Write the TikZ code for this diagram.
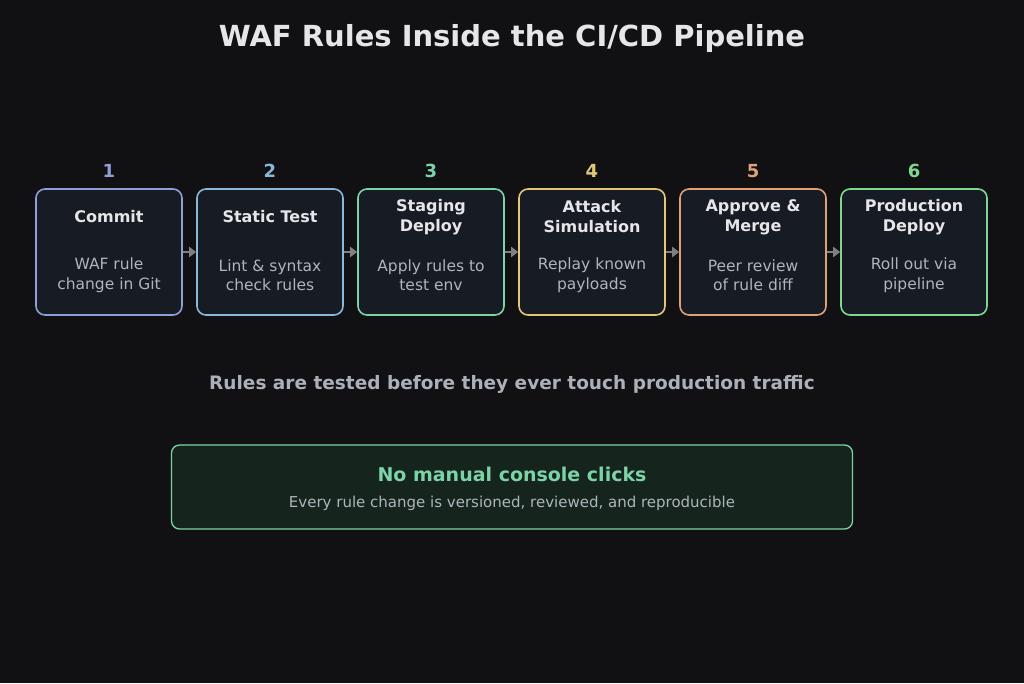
\documentclass[tikz,border=0pt]{standalone}
\usepackage{fontspec}
\setmainfont{DejaVu Sans}
\usetikzlibrary{positioning,arrows.meta}
\definecolor{bgdark}{HTML}{111113}
\definecolor{boxfill}{HTML}{161B24}
\definecolor{txtmain}{HTML}{E6E6E8}
\definecolor{txtdim}{HTML}{B0B4BC}
\definecolor{cOne}{HTML}{8FA0D8}
\definecolor{cTwo}{HTML}{8AB8D8}
\definecolor{cThree}{HTML}{7DD3A8}
\definecolor{cFour}{HTML}{E0C878}
\definecolor{cFive}{HTML}{E0A078}
\definecolor{cSix}{HTML}{80D890}
\definecolor{notefill}{HTML}{15241C}
\tikzset{
	x=1pt, y=-1pt,
	stage/.style = {
			draw, line width=1.6pt, rounded corners=9pt,
			fill=boxfill, minimum width=146pt, minimum height=126pt,
		},
	stepnum/.style = {font=\bfseries\fontsize{18}{20}\selectfont},
	head/.style = {text=txtmain, font=\bfseries\fontsize{16}{20}\selectfont, align=center},
	desc/.style = {text=txtdim, font=\fontsize{15.5}{19.5}\selectfont, align=center},
	flow/.style = {draw=gray, line width=2.5pt, -{Triangle[length=7pt,width=10pt]}},
}
\begin{document}
\begin{tikzpicture}
	\fill[bgdark] (0,0) rectangle (1024,683);
	\useasboundingbox (0,0) rectangle (1024,683);
	\node[text=txtmain, font=\bfseries\fontsize{29}{32}\selectfont] (title) at (512,38) {WAF Rules Inside the CI/CD Pipeline};
	% stages
	\node[stage, draw=cOne] (s1) at (109,252) {};
	\node[stage, draw=cTwo, right=13.4pt of s1] (s2) {};
	\node[stage, draw=cThree, right=13.4pt of s2] (s3) {};
	\node[stage, draw=cFour, right=13.4pt of s3] (s4) {};
	\node[stage, draw=cFive, right=13.4pt of s4] (s5) {};
	\node[stage, draw=cSix, right=13.4pt of s5] (s6) {};
	\foreach \i/\c in {1/cOne,2/cTwo,3/cThree,4/cFour,5/cFive,6/cSix}
		\node[stepnum, text=\c] (n\i) at ([yshift=81pt]s\i.center) {\i};
	\node[head] (h1) at ([yshift=35pt]s1.center) {Commit};
	\node[head] (h2) at ([yshift=35pt]s2.center) {Static Test};
	\node[head] (h3) at ([yshift=35pt]s3.center) {Staging\\Deploy};
	\node[head] (h4) at ([yshift=35pt]s4.center) {Attack\\Simulation};
	\node[head] (h5) at ([yshift=35pt]s5.center) {Approve \&\\Merge};
	\node[head] (h6) at ([yshift=35pt]s6.center) {Production\\Deploy};
	\node[desc] (d1) at ([yshift=-23pt]s1.center) {WAF rule\\change in Git};
	\node[desc] (d2) at ([yshift=-23pt]s2.center) {Lint \& syntax\\check rules};
	\node[desc] (d3) at ([yshift=-23pt]s3.center) {Apply rules to\\test env};
	\node[desc] (d4) at ([yshift=-23pt]s4.center) {Replay known\\payloads};
	\node[desc] (d5) at ([yshift=-23pt]s5.center) {Peer review\\of rule diff};
	\node[desc] (d6) at ([yshift=-23pt]s6.center) {Roll out via\\pipeline};
	\foreach \a/\b in {1/2,2/3,3/4,4/5,5/6}
		\draw[flow] (s\a.east) -- (s\b.west);
	% summary
	\node[text=txtdim!105, font=\bfseries\fontsize{18.5}{20}\selectfont] (tagline) at (512,384) {Rules are tested before they ever touch production traffic};
	\node[draw=cThree, line width=1.3pt, rounded corners=8pt, fill=notefill, minimum width=681pt, minimum height=84pt] (note) at (512,487) {};
	\node[text=cThree, font=\bfseries\fontsize{19}{22}\selectfont] (notehead) at (512,474) {No manual console clicks};
	\node[text=txtdim, font=\fontsize{15}{18}\selectfont] (notetext) at (512,503) {Every rule change is versioned, reviewed, and reproducible};
\end{tikzpicture}
\end{document}
